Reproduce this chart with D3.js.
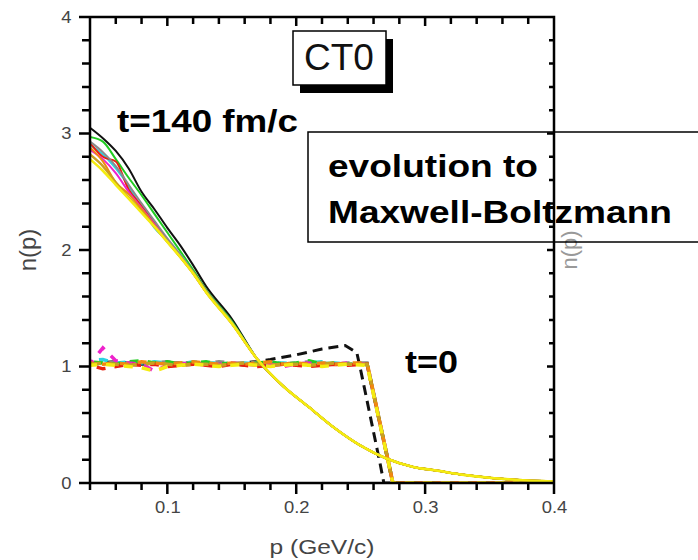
<!DOCTYPE html>
<html>
<head>
<meta charset="utf-8">
<script src="https://cdn.jsdelivr.net/npm/d3@7"></script>
<style>
  body { margin: 0; background: #fff; }
  svg { display: block; font-family: "Liberation Sans", Arial, sans-serif; }
</style>
</head>
<body>
<div id="chart"></div>
<script>
// momentum grid for the t=140 fm/c curves (solid)
const pLate = [0.04, 0.05, 0.06, 0.07, 0.08, 0.09, 0.10, 0.11, 0.12, 0.13, 0.15, 0.17, 0.19, 0.21, 0.23, 0.25, 0.27, 0.29, 0.31, 0.33, 0.35, 0.37, 0.40];
const tail = [1.06, 0.83, 0.65, 0.47, 0.32, 0.21, 0.14, 0.105, 0.07, 0.045, 0.028, 0.012];
const lateBlack   = [3.05, 2.96, 2.85, 2.70, 2.50, 2.35, 2.19, 2.04, 1.87, 1.69, 1.41].concat(tail);
const lateGreen   = [2.97, 2.93, 2.78, 2.62, 2.47, 2.31, 2.15, 1.99, 1.83, 1.66, 1.39].concat(tail);
const lateCyan    = [2.90, 2.82, 2.70, 2.55, 2.36, 2.19, 2.08, 1.96, 1.81, 1.65, 1.38].concat(tail);
const lateRed     = [2.92, 2.80, 2.76, 2.52, 2.38, 2.23, 2.09, 1.95, 1.81, 1.65, 1.37].concat(tail);
const lateMagenta = [2.86, 2.78, 2.66, 2.50, 2.36, 2.22, 2.08, 1.94, 1.80, 1.64, 1.37].concat(tail);
const lateOrange  = [2.88, 2.76, 2.58, 2.48, 2.35, 2.21, 2.07, 1.94, 1.80, 1.64, 1.37].concat(tail);
const lateGray    = [2.93, 2.84, 2.72, 2.56, 2.40, 2.25, 2.10, 1.96, 1.81, 1.65, 1.38].concat(tail);
const lateGold    = [2.82, 2.72, 2.58, 2.45, 2.33, 2.20, 2.07, 1.94, 1.80, 1.64, 1.37].concat(tail);
const lateYellow  = [2.78, 2.68, 2.56, 2.44, 2.32, 2.20, 2.07, 1.94, 1.80, 1.64, 1.37].concat(tail);

// momentum grid for the t=0 curves (dashed)
const pInit = [0.04, 0.05, 0.06, 0.07, 0.08, 0.09, 0.10, 0.11, 0.12, 0.13, 0.14, 0.15, 0.16, 0.17, 0.18, 0.19, 0.20, 0.21, 0.22, 0.23, 0.24, 0.255, 0.275, 0.30, 0.33, 0.36, 0.40];
const initRed     = [1.01, 0.98, 1.00, 1.02, 1.01, 1.02, 1.00, 1.01, 1.02, 1.01, 1.00, 1.02, 1.01, 1.00, 1.01, 1.02, 1.01, 1.00, 1.01, 1.02, 1.01, 1.02, 0, 0, 0, 0, 0];
const initOrange  = [1.03, 1.02, 1.03, 1.02, 1.04, 1.03, 1.02, 1.03, 1.04, 1.03, 1.02, 1.03, 1.02, 1.03, 1.04, 1.02, 1.03, 1.02, 1.03, 1.02, 1.03, 1.03, 0, 0, 0, 0, 0];
const initGreen   = [1.04, 1.03, 1.02, 1.04, 1.05, 1.03, 1.04, 1.02, 1.03, 1.04, 1.02, 1.03, 1.01, 1.03, 1.04, 1.02, 1.03, 1.05, 1.02, 1.03, 1.02, 1.02, 0, 0, 0, 0, 0];
const initCyan    = [1.05, 1.06, 1.03, 1.04, 1.03, 1.04, 1.03, 1.02, 1.04, 1.03, 1.03, 1.02, 1.03, 1.02, 1.03, 1.03, 1.02, 1.03, 1.04, 1.03, 1.02, 1.02, 0, 0, 0, 0, 0];
const initMagenta = [1.02, 1.16, 1.05, 1.03, 1.02, 0.96, 1.01, 1.02, 1.03, 1.01, 1.02, 1.03, 1.02, 1.01, 1.02, 1.00, 1.02, 1.03, 1.01, 1.02, 1.03, 1.02, 0, 0, 0, 0, 0];
const initGray    = [1.03, 1.02, 1.04, 1.03, 1.02, 1.03, 1.04, 1.03, 1.02, 1.03, 1.04, 1.03, 1.02, 1.04, 1.03, 1.02, 1.03, 1.04, 1.03, 1.02, 1.03, 1.03, 0, 0, 0, 0, 0];
const initGold    = [1.02, 1.03, 1.02, 1.01, 1.02, 1.03, 1.02, 1.01, 1.02, 1.02, 1.01, 1.02, 1.03, 1.02, 1.01, 1.02, 1.02, 1.01, 1.02, 1.03, 1.02, 1.02, 0, 0, 0, 0, 0];
const initYellow  = [1.01, 1.02, 1.01, 1.00, 0.99, 0.96, 1.00, 1.01, 1.02, 1.01, 1.00, 1.01, 1.02, 1.01, 1.00, 1.01, 1.02, 1.01, 1.00, 1.01, 1.02, 1.01, 0, 0, 0, 0, 0];
// the black initial curve bulges above 1 before its edge
const pInitBlack = [0.04, 0.06, 0.08, 0.10, 0.12, 0.14, 0.16, 0.18, 0.20, 0.22, 0.238, 0.247, 0.25, 0.265, 0.268, 0.30, 0.35, 0.40];
const initBlack  = [1.03, 1.04, 1.02, 1.03, 1.03, 1.02, 1.03, 1.06, 1.10, 1.15, 1.18, 1.12, 0.97, 0.17, 0, 0, 0, 0];

const xTicks = [0.1, 0.2, 0.3, 0.4];
const yTicks = [0, 1, 2, 3, 4];
const xMinor = d3.range(0.04, 0.401, 0.02);
const yMinor = d3.range(0, 4.01, 0.2);

const W = 698, H = 560;
const margin = { left: 90, right: 144, top: 17, bottom: 77 };
const width = W - margin.left - margin.right;
const height = H - margin.top - margin.bottom;
const plotLeft = margin.left, plotRight = margin.left + width;
const plotBottom = margin.top + height, plotTop = margin.top;

const svg = d3.select('#chart').append('svg')
  .attr('width', W)
  .attr('height', H);

const x = d3.scaleLinear().domain([0.04, 0.4]).range([plotLeft, plotRight]);
const y = d3.scaleLinear().domain([0, 4]).range([plotBottom, plotTop]);

svg.append('clipPath').attr('id', 'plot-clip')
  .append('rect')
  .attr('x', plotLeft).attr('y', plotTop)
  .attr('width', width).attr('height', height);

const plot = svg.append('g').attr('clip-path', 'url(#plot-clip)');

// dashed t=0 curves, black one underneath
const initLine = d3.line().x(d => x(d[0])).y(d => y(d[1]));
plot.append('path')
  .datum(pInitBlack.map((p, i) => [p, initBlack[i]]))
  .attr('d', initLine)
  .attr('fill', 'none')
  .attr('stroke', '#111')
  .attr('stroke-width', 3)
  .attr('stroke-dasharray', '10,6');
const initSeries = [
  { v: initGray, c: '#8a8a8a', off: 0 },
  { v: initCyan, c: '#2ad4e0', off: 9 },
  { v: initGreen, c: '#22cc22', off: 14 },
  { v: initMagenta, c: '#ee22cc', off: 4 },
  { v: initRed, c: '#e82010', off: 11 },
  { v: initOrange, c: '#f08a10', off: 6 },
  { v: initGold, c: '#c9a020', off: 16 },
  { v: initYellow, c: '#f4ec10', off: 2 }
];
initSeries.forEach(s => {
  plot.append('path')
    .datum(pInit.map((p, i) => [p, s.v[i]]))
    .attr('d', initLine)
    .attr('fill', 'none')
    .attr('stroke', s.c)
    .attr('stroke-width', 3.5)
    .attr('stroke-dasharray', '9,9')
    .attr('stroke-dashoffset', s.off);
});

// solid t=140 fm/c curves
const lateLine = d3.line().curve(d3.curveMonotoneX).x(d => x(d[0])).y(d => y(d[1]));
const lateSeries = [
  { v: lateBlack, c: '#111', w: 2 },
  { v: lateGreen, c: '#22cc22', w: 2 },
  { v: lateCyan, c: '#2ad4e0', w: 2 },
  { v: lateRed, c: '#e82010', w: 2 },
  { v: lateMagenta, c: '#ee22cc', w: 2 },
  { v: lateGray, c: '#8a8a8a', w: 2 },
  { v: lateOrange, c: '#f08a10', w: 2 },
  { v: lateGold, c: '#c9a020', w: 2.4 },
  { v: lateYellow, c: '#f4ec10', w: 2.6 }
];
lateSeries.forEach(s => {
  plot.append('path')
    .datum(pLate.map((p, i) => [p, s.v[i]]))
    .attr('d', lateLine)
    .attr('fill', 'none')
    .attr('stroke', s.c)
    .attr('stroke-width', s.w)
    .attr('stroke-linejoin', 'round');
});

// n(p) title of the neighbouring panel, showing at the right edge
svg.append('text')
  .attr('transform', 'translate(577,250) rotate(-90)')
  .attr('text-anchor', 'middle')
  .attr('font-size', 22)
  .attr('fill', '#999')
  .text('n(p)');

// annotations
svg.append('text')
  .attr('x', 117).attr('y', 132)
  .attr('font-size', 31).attr('font-weight', 'bold')
  .attr('textLength', 181).attr('lengthAdjust', 'spacingAndGlyphs')
  .text('t=140 fm/c');

svg.append('text')
  .attr('x', 405).attr('y', 373)
  .attr('font-size', 31).attr('font-weight', 'bold')
  .attr('textLength', 53).attr('lengthAdjust', 'spacingAndGlyphs')
  .text('t=0');

svg.append('rect')
  .attr('x', 308).attr('y', 132)
  .attr('width', 400).attr('height', 110)
  .attr('fill', 'none')
  .attr('stroke', '#000').attr('stroke-width', 1.5);
svg.append('text')
  .attr('x', 328).attr('y', 177)
  .attr('font-size', 32).attr('font-weight', 'bold')
  .attr('textLength', 210).attr('lengthAdjust', 'spacingAndGlyphs')
  .text('evolution to');
svg.append('text')
  .attr('x', 328).attr('y', 223)
  .attr('font-size', 32).attr('font-weight', 'bold')
  .attr('textLength', 344).attr('lengthAdjust', 'spacingAndGlyphs')
  .text('Maxwell-Boltzmann');

// CT0 label with drop shadow
svg.append('rect')
  .attr('x', 300).attr('y', 39)
  .attr('width', 93).attr('height', 54)
  .attr('fill', '#000');
svg.append('rect')
  .attr('x', 293).attr('y', 31)
  .attr('width', 93).attr('height', 54)
  .attr('fill', '#fff')
  .attr('stroke', '#000').attr('stroke-width', 1.5);
svg.append('text')
  .attr('x', 339).attr('y', 70)
  .attr('text-anchor', 'middle')
  .attr('font-size', 37)
  .attr('fill', '#111')
  .text('CT0');

// tick labels from d3 axes (their own tick lines and domain dropped)
function labelsOnly(g) {
  g.select('.domain').remove();
  g.selectAll('.tick line').remove();
  g.selectAll('.tick text')
    .attr('fill', '#444')
    .attr('font-size', 16)
    .attr('transform', 'scale(1.15,1)');
}
svg.append('g')
  .attr('transform', `translate(0,${plotBottom})`)
  .call(d3.axisBottom(x).tickValues(xTicks).tickSize(11).tickPadding(8).tickFormat(d3.format('.1f')))
  .call(labelsOnly);
svg.append('g')
  .attr('transform', `translate(${plotLeft},0)`)
  .call(d3.axisLeft(y).tickValues(yTicks).tickSize(11).tickPadding(5).tickFormat(d3.format('d')))
  .call(labelsOnly);

// frame and all tick marks in one outline path:
// bottom/left ticks point outward, top/right ticks point inward
const frame = d3.path();
frame.rect(plotLeft, plotTop, width, height);
xMinor.forEach(v => { frame.moveTo(x(v), plotBottom); frame.lineTo(x(v), plotBottom + 7); });
xTicks.forEach(v => { frame.moveTo(x(v), plotBottom); frame.lineTo(x(v), plotBottom + 11); });
xMinor.forEach(v => { frame.moveTo(x(v), plotTop); frame.lineTo(x(v), plotTop + 7); });
xTicks.forEach(v => { frame.moveTo(x(v), plotTop); frame.lineTo(x(v), plotTop + 9); });
yMinor.forEach(v => { frame.moveTo(plotLeft, y(v)); frame.lineTo(plotLeft - 8, y(v)); });
yTicks.forEach(v => { frame.moveTo(plotLeft, y(v)); frame.lineTo(plotLeft - 11, y(v)); });
yMinor.forEach(v => { frame.moveTo(plotRight, y(v)); frame.lineTo(plotRight - 5, y(v)); });
yTicks.forEach(v => { frame.moveTo(plotRight, y(v)); frame.lineTo(plotRight - 7, y(v)); });

svg.append('path')
  .attr('d', frame.toString())
  .attr('fill', 'none')
  .attr('stroke', '#000')
  .attr('stroke-width', 2.5);

// axis titles
svg.append('text')
  .attr('transform', 'translate(36,250) rotate(-90)')
  .attr('text-anchor', 'middle')
  .attr('font-size', 24)
  .attr('fill', '#444')
  .text('n(p)');

svg.append('text')
  .attr('x', 322).attr('y', 554)
  .attr('text-anchor', 'middle')
  .attr('font-size', 20)
  .attr('fill', '#444')
  .attr('textLength', 105).attr('lengthAdjust', 'spacingAndGlyphs')
  .text('p (GeV/c)');
</script>
</body>
</html>
